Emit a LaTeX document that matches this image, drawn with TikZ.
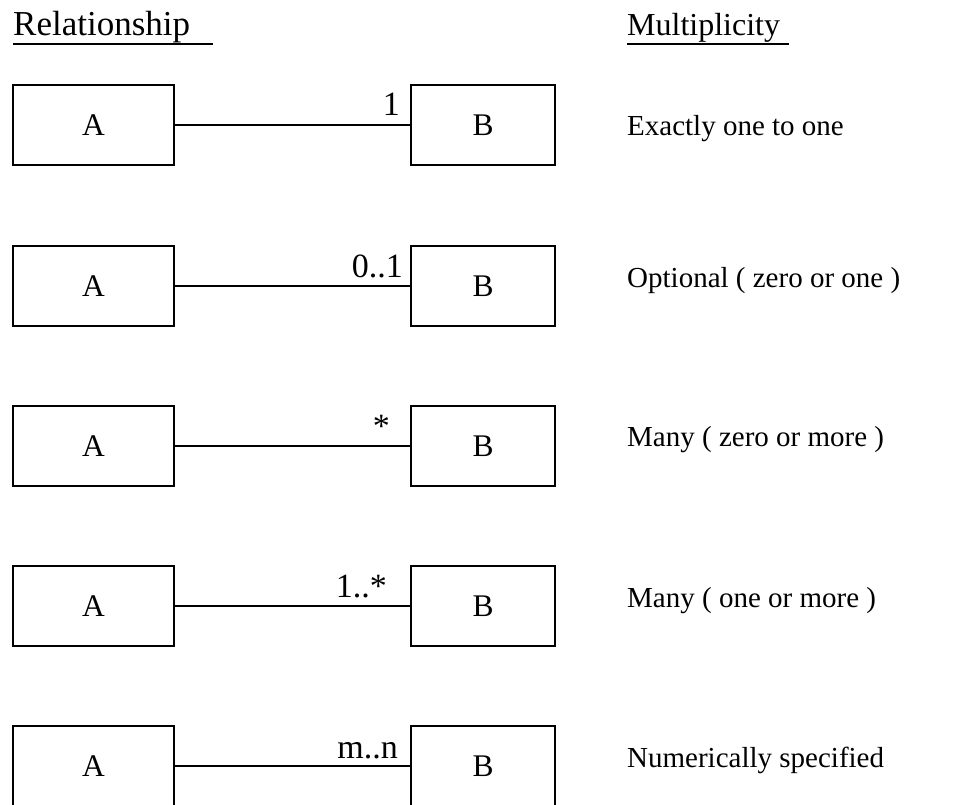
\documentclass[tikz,border=0pt]{standalone}
\usepackage{fontspec}
\setmainfont{Liberation Serif}
\begin{document}
\begin{tikzpicture}[x=1pt,y=-1pt,
  box/.style={draw,line width=1.5pt,minimum height=80pt,inner sep=0pt,font=\fontsize{31.5}{31.5}\selectfont},
  abox/.style={box,minimum width=161pt},
  bbox/.style={box,minimum width=144pt},
  link/.style={line width=1.5pt},
  mult/.style={anchor=base east,inner sep=0pt,font=\fontsize{34}{34}\selectfont},
  desc/.style={anchor=base west,inner sep=0pt,font=\fontsize{29}{29}\selectfont},
  head/.style={anchor=base west,inner sep=0pt},
  uline/.style={line width=1.5pt}]
\useasboundingbox (0,0) rectangle (961,804);
\node[head,font=\fontsize{35}{35}\selectfont] (hrel) at (13,35) {Relationship};
\draw[uline] ([yshift=-9pt]hrel.base west) -- ++(200,0);
\node[head,font=\fontsize{32}{32}\selectfont] (hmul) at (627,35) {Multiplicity};
\draw[uline] ([yshift=-9pt]hmul.base west) -- ++(162,0);
\foreach \yc/\lab/\lx/\ly/\dy/\txt [count=\i] in {
  125/{1}/400/115/135/{Exactly one to one},
  286/{0..1}/403/277/287/{Optional ( zero or one )},
  446/{*}/390/437/446/{Many ( zero or more )},
  606/{1..*}/387/597/607/{Many ( one or more )},
  766/{m..n}/398/758/767/{Numerically specified}} {
  \node[abox] (a\i) at (93.5,\yc) {A};
  \node[bbox] (b\i) at (483,\yc) {B};
  \draw[link] (a\i.east) -- (b\i.west);
  \node[mult] (m\i) at (\lx,\ly) {\lab};
  \node[desc] (d\i) at (627,\dy) {\txt};
}
\end{tikzpicture}
\end{document}
